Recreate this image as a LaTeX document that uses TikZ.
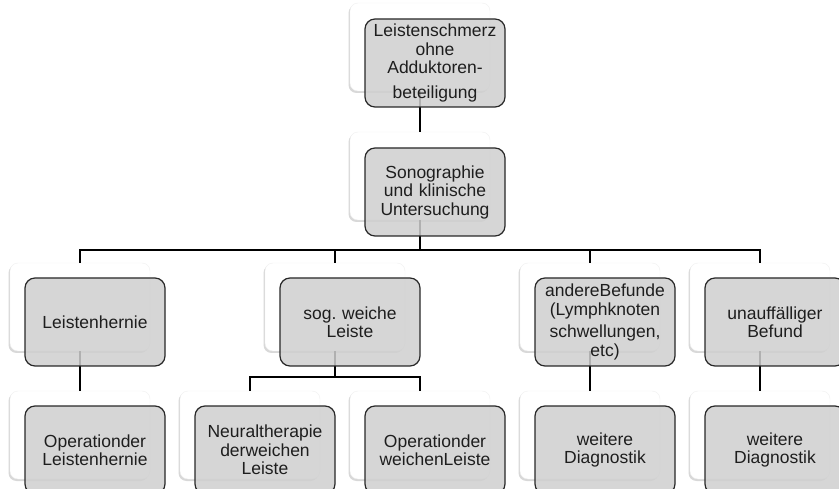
\documentclass[tikz,border=0pt]{standalone}
\usepackage{fontspec}
\setmainfont{Liberation Sans}
\usetikzlibrary{shadows}
\definecolor{boxgray}{RGB}{207,207,207}
\definecolor{boxline}{RGB}{40,40,40}
\definecolor{txt}{RGB}{30,30,30}
\frenchspacing
\begin{document}
\begin{tikzpicture}[x=1pt,y=-1pt,
  card/.style={rectangle,rounded corners=8pt,fill=white,draw=black!6,minimum width=140pt,minimum height=88pt,drop shadow={shadow xshift=-1.5pt,shadow yshift=-2pt,opacity=0.3}},
  box/.style={rectangle,rounded corners=10pt,fill=boxgray,fill opacity=0.85,text opacity=1,draw=boxline,line width=1.2pt,minimum width=140pt,minimum height=88pt,text width=136pt,align=center,text=txt,font=\fontsize{17.5}{18.5}\selectfont,inner sep=0pt},
  link/.style={draw=black,line width=1.3pt}]
\clip (0,0) rectangle (839,489);
\fill[white] (0,0) rectangle (839,489);
% white cards
\node[card] (k0) at (420,47) {};
\node[card] (k1) at (420,176) {};
\node[card] (k2a) at (80,307) {};
\node[card] (k2b) at (335,307) {};
\node[card] (k2c) at (590,307) {};
\node[card] (k2d) at (760,307) {};
\node[card] (k3a) at (80,435) {};
\node[card] (k3b) at (250,435) {};
\node[card] (k3c) at (420,435) {};
\node[card] (k3d) at (590,435) {};
\node[card] (k3e) at (760,435) {};
\coordinate (bus1) at (420,250);
\coordinate (bus2) at (335,377);
% connectors
\draw[link] (k0) -- (k1);
\draw[link] (k1) -- (bus1);
\foreach \n in {k2a,k2b,k2c,k2d} \draw[link] (\n.north) |- (bus1);
\draw[link] (k2a) -- (k3a);
\draw[link] (k2b) -- (bus2);
\foreach \n in {k3b,k3c} \draw[link] (\n.north) |- (bus2);
\draw[link] (k2c) -- (k3d);
\draw[link] (k2d) -- (k3e);
% grey boxes
\node[box] (b0) at ([xshift=15pt,yshift=-16pt]k0.center) {Leistenschmerz\\ohne\\Adduktoren-\\[6pt]beteiligung};
\node[box] (b1) at ([xshift=15pt,yshift=-16pt]k1.center) {Sonographie\\und klinische\\Untersuchung};
\node[box] (b2a) at ([xshift=15pt,yshift=-15pt]k2a.center) {Leistenhernie};
\node[box] (b2b) at ([xshift=15pt,yshift=-15pt]k2b.center) {sog. weiche\\Leiste};
\node[box] (b2c) at ([xshift=15pt,yshift=-15pt]k2c.center) {andereBefunde\\(Lymphknoten\\[4pt]schwellungen,\\etc)};
\node[box] (b2d) at ([xshift=15pt,yshift=-15pt]k2d.center) {unauffälliger\\Befund};
\node[box] (b3a) at ([xshift=15pt,yshift=-15pt]k3a.center) {Operationder\\Leistenhernie};
\node[box] (b3b) at ([xshift=15pt,yshift=-15pt]k3b.center) {Neuraltherapie\\derweichen\\Leiste};
\node[box] (b3c) at ([xshift=15pt,yshift=-15pt]k3c.center) {Operationder\\weichenLeiste};
\node[box] (b3d) at ([xshift=15pt,yshift=-15pt]k3d.center) {weitere\\Diagnostik};
\node[box] (b3e) at ([xshift=15pt,yshift=-15pt]k3e.center) {weitere\\Diagnostik};
\end{tikzpicture}
\end{document}
